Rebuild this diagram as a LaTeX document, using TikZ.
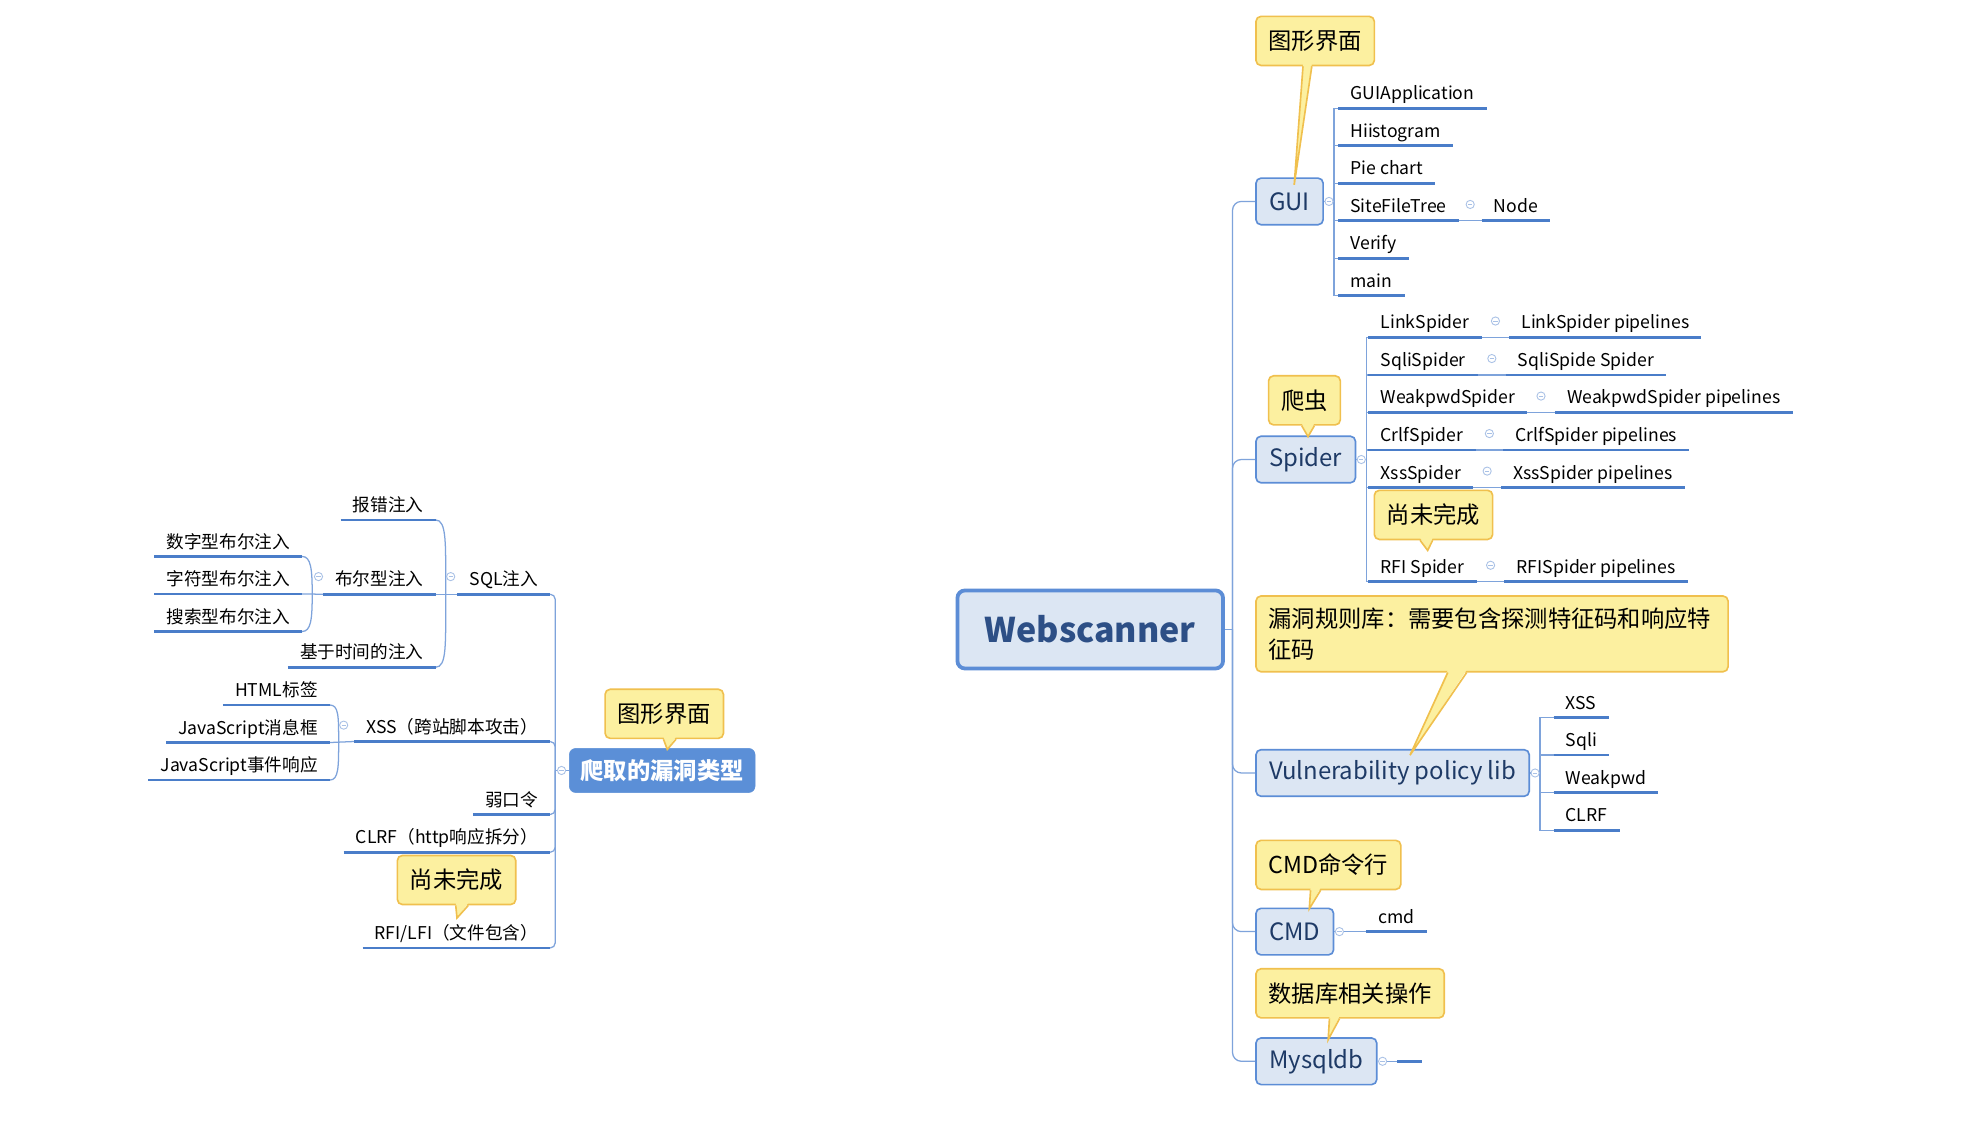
\documentclass[tikz,border=0pt]{standalone}
\usepackage{fontspec}
\setmainfont{Noto Sans CJK SC}
\usetikzlibrary{positioning,calc}
\definecolor{MapLine}{HTML}{4A7DC9}
\definecolor{MapTwig}{HTML}{7EA3DB}
\definecolor{MapFold}{HTML}{A9C1E6}
\definecolor{TopicFill}{HTML}{DCE6F3}
\definecolor{TopicEdge}{HTML}{5C8DD6}
\definecolor{TopicText}{HTML}{1E3A66}
\definecolor{HeadText}{HTML}{2D4F86}
\definecolor{NoteFill}{HTML}{FCF0A0}
\definecolor{NoteEdge}{HTML}{F0C04E}
\definecolor{RootBlue}{HTML}{5B8FD7}
\tikzset{
  topic/.style={
    draw=TopicEdge,
    fill=TopicFill,
    line width=1.3pt,
    rounded corners=4pt,
    text=TopicText,
    font=\fontsize{19}{22}\selectfont,
    minimum height=37pt,
    inner xsep=10.5pt,
    anchor=west
  },
  central/.style={topic, line width=3pt, rounded corners=6pt, text=HeadText,
    font=\fontsize{27}{32}\selectfont\bfseries, minimum width=211pt, minimum height=62pt, anchor=center},
  subroot/.style={fill=RootBlue, draw=RootBlue, rounded corners=5pt, text=white,
    font=\fontsize{18.5}{22}\selectfont\bfseries, minimum height=35pt, inner xsep=9pt},
  note/.style={
    draw=NoteEdge,
    fill=NoteFill,
    line width=1.3pt,
    rounded corners=4pt,
    font=\fontsize{18.5}{25}\selectfont,
    minimum height=39pt,
    inner xsep=10pt,
    anchor=west
  },
  leaf/.style={inner xsep=9.5pt, inner ysep=3pt, text height=19.9pt, text depth=3.5pt,
    font=\fontsize{14}{17}\selectfont},
  leafR/.style={leaf, anchor=south west},
  leafL/.style={leaf, anchor=south east},
  uline/.style={draw=MapLine, line width=2.2pt},
  twig/.style={draw=MapTwig, line width=1pt},
  fold/.style={circle, draw=MapFold, fill=white, line width=0.7pt, minimum size=6.5pt, inner sep=0pt,
    path picture={\draw[MapFold, line width=0.7pt] ([xshift=-1.7pt]path picture bounding box.center)
      -- ([xshift=1.7pt]path picture bounding box.center);}}
}
% callout tail: note, base from, base to, tip
\newcommand{\notetail}[4]{%
  \fill[NoteFill] ($(#1.south west)+(#2,-2)$) -- (#4) -- ($(#1.south west)+(#3,-2)$) -- cycle;
  \draw[NoteEdge, line width=1.3pt] ($(#1.south west)+(#2,0)$) -- (#4) -- ($(#1.south west)+(#3,0)$);
}

\begin{document}
\begin{tikzpicture}[x=1pt, y=-1pt]
  \useasboundingbox[fill=white] (0,0) rectangle (1568,899);

  % right map
  \node[central] (web) at (866,500) {Webscanner};
  \node[topic] (gui) at (997,160) {GUI};
  \node[topic] (spider) at (997,365) {Spider};
  \node[topic] (vuln) at (997,614) {Vulnerability policy lib};
  \node[topic] (cmd) at (997,740) {CMD};
  \node[topic] (mysql) at (997,843) {Mysqldb};

  \coordinate (rt) at (979,500);
  \draw[twig] (web.east) -- (rt);
  \foreach \n in {gui,spider,vuln,cmd,mysql}
    \draw[twig, rounded corners=7pt] (rt) |- (\n.west);

  % GUI
  \node[leafR] (gapp) at (1063,86) {GUIApplication};
  \node[leafR, below=0pt of gapp.south west, anchor=north west] (ghist) {Hiistogram};
  \node[leafR, below=0pt of ghist.south west, anchor=north west] (gpie) {Pie chart};
  \node[leafR, below=0pt of gpie.south west, anchor=north west] (gtree) {SiteFileTree};
  \node[leafR, below=0pt of gtree.south west, anchor=north west] (gver) {Verify};
  \node[leafR, below=0pt of gver.south west, anchor=north west] (gmain) {main};
  \node[leafR, right=18pt of gtree.south east, anchor=south west] (gnode) {Node};
  \coordinate (gbr) at ($(gui.east)+(8,0)$);
  \draw[twig] (gui.east) -- (gbr);
  \foreach \n in {gapp,ghist,gpie,gtree,gver,gmain}
    \draw[twig] (gbr) |- (\n.south west);
  \draw[twig] (gtree.south east) -- (gnode.south west);

  % Spider
  \node[leafR] (slink) at (1087,268) {LinkSpider};
  \node[leafR, below=0pt of slink.south west, anchor=north west] (ssqli) {SqliSpider};
  \node[leafR, below=0pt of ssqli.south west, anchor=north west] (sweak) {WeakpwdSpider};
  \node[leafR, below=0pt of sweak.south west, anchor=north west] (scrlf) {CrlfSpider};
  \node[leafR, below=0pt of scrlf.south west, anchor=north west] (sxss) {XssSpider};
  \node[leafR] (srfi) at (1087,462) {RFI Spider};
  \foreach \a/\t in {slink/LinkSpider pipelines, ssqli/SqliSpide Spider, sweak/WeakpwdSpider pipelines,
      scrlf/CrlfSpider pipelines, sxss/XssSpider pipelines, srfi/RFISpider pipelines}
    \node[leafR, right=22pt of \a.south east, anchor=south west] (\a-p) {\t};
  \coordinate (sbr) at ($(spider.east)+(8,0)$);
  \draw[twig] (spider.east) -- (sbr);
  \foreach \n in {slink,ssqli,sweak,scrlf,sxss,srfi}
    \draw[twig] (sbr) |- (\n.south west);
  \foreach \n in {slink,ssqli,sweak,scrlf,sxss,srfi}
    \draw[twig] (\n.south east) -- (\n-p.south west);

  % vulnerability lib
  \node[leafR] (vxss) at (1234,570) {XSS};
  \node[leafR, below=0pt of vxss.south west, anchor=north west] (vsqli) {Sqli};
  \node[leafR, below=0pt of vsqli.south west, anchor=north west] (vweak) {Weakpwd};
  \node[leafR, below=0pt of vweak.south west, anchor=north west] (vclrf) {CLRF};
  \coordinate (vbr) at ($(vuln.east)+(8,0)$);
  \draw[twig] (vuln.east) -- (vbr);
  \foreach \n in {vxss,vsqli,vweak,vclrf}
    \draw[twig] (vbr) |- (\n.south west);

  % CMD, Mysqldb
  \node[leafR] (ccmd) at (1085,740) {cmd};
  \node[leafR, minimum width=19pt] (mnone) at (1110,843) {};
  \draw[twig] (cmd.east) -- (ccmd.south west);
  \draw[twig] (mysql.east) -- (mnone.south west);

  % left map
  \node[subroot] (lroot) at (526,612) {爬取的漏洞类型};
  \node[leafL] (lsql) at (437,472) {SQL注入};
  \node[leafL] (lxss) at (437,589) {XSS（跨站脚本攻击）};
  \node[leafL] (lruo) at (437,647) {弱口令};
  \node[leafL] (lclrf) at (437,677) {CLRF（http响应拆分）};
  \node[leafL] (lrfi) at (437,753) {RFI/LFI（文件包含）};
  \coordinate (lt) at (441,612);
  \draw[twig] (lroot.west) -- (lt);
  \foreach \n in {lsql,lxss,lruo,lclrf,lrfi}
    \draw[twig, rounded corners=4pt] (lt) |- (\n.south east);

  \node[leafL] (qbao) at (346,413) {报错注入};
  \node[leafL] (qbool) at (346,472) {布尔型注入};
  \node[leafL] (qtime) at (346,530) {基于时间的注入};
  \draw[twig] (qbao.south east) .. controls +(9,0) and +(0,-40) .. (354,472)
    .. controls +(0,40) and +(9,0) .. (qtime.south east);
  \draw[twig] (qbool.south east) -- (lsql.south west);

  \node[leafL] (bnum) at (240,442) {数字型布尔注入};
  \node[leafL, below=0pt of bnum.south east, anchor=north east] (bchar) {字符型布尔注入};
  \node[leafL, below=0pt of bchar.south east, anchor=north east] (bsearch) {搜索型布尔注入};
  \draw[twig] (bnum.south east) .. controls +(7,0) and +(0,-20) .. (248,472)
    .. controls +(0,20) and +(7,0) .. (bsearch.south east);
  \draw[twig] (bchar.south east) -- (qbool.south west);

  \node[leafL] (xhtml) at (262,560) {HTML标签};
  \node[leafL, below=0pt of xhtml.south east, anchor=north east] (xmsg) {JavaScript消息框};
  \node[leafL, below=0pt of xmsg.south east, anchor=north east] (xevt) {JavaScript事件响应};
  \draw[twig] (xhtml.south east) .. controls +(7,0) and +(0,-20) .. (269,589)
    .. controls +(0,20) and +(7,0) .. (xevt.south east);
  \draw[twig] (xmsg.south east) -- (lxss.south west);

  % underlines
  \foreach \n in {gapp,ghist,gpie,gtree,gver,gmain,gnode,
      slink,ssqli,sweak,scrlf,sxss,srfi,slink-p,ssqli-p,sweak-p,scrlf-p,sxss-p,srfi-p,
      vxss,vsqli,vweak,vclrf,ccmd,mnone,
      lsql,lxss,lruo,lclrf,lrfi,qbao,qbool,qtime,bnum,bchar,bsearch,xhtml,xmsg,xevt}
    \draw[uline] (\n.south west) -- (\n.south east);

  % callouts
  \node[note] (ngui) at (997,32.5) {图形界面};
  \node[note] (nspider) at (1007,318) {爬虫};
  \node[note] (nrfi) at (1091,409) {尚未完成};
  \node[note, text width=355pt, align=left, inner ysep=9pt] (nvuln) at (997,503.5)
    {漏洞规则库：需要包含探测特征码和响应特\\征码};
  \node[note] (ncmd) at (997,687) {CMD命令行};
  \node[note] (ndb) at (997,789) {数据库相关操作};
  \node[note] (nlgui) at (480,567) {图形界面};
  \node[note] (nlrfi) at (315,699) {尚未完成};
  \notetail{ngui}{38}{45}{$(gui.north west)+(31,6)$}
  \notetail{nspider}{27}{37}{$(spider.north west)+(42,1)$}
  \notetail{nrfi}{37}{47}{$(srfi.north west)+(47,5)$}
  \notetail{nvuln}{153}{168}{$(vuln.north west)+(123,5)$}
  \notetail{ncmd}{44}{52}{$(cmd.north west)+(43,1)$}
  \notetail{ndb}{59}{67}{$(mysql.north west)+(58,2)$}
  \notetail{nlgui}{47}{57}{$(lroot.north west)+(78,1)$}
  \notetail{nlrfi}{47}{57}{$(lrfi.north east)+(-74,6)$}

  % fold markers
  \foreach \n in {gui,spider,vuln,cmd,mysql}
    \node[fold] (f\n) at ($(\n.east)+(4,0)$) {};
  \node[fold] (fgtree) at ($(gtree.south east)!0.5!(gnode.south west)+(0,-13)$) {};
  \foreach \n in {slink,ssqli,sweak,scrlf,sxss,srfi}
    \node[fold] (f\n) at ($(\n.south east)!0.5!(\n-p.south west)+(0,-13)$) {};
  \node[fold] (flroot) at ($(lroot.west)+(-6,0)$) {};
  \node[fold] (flsql) at (358,458) {};
  \node[fold] (fqbool) at (253,458) {};
  \node[fold] (flxss) at (273,576) {};
\end{tikzpicture}
\end{document}
